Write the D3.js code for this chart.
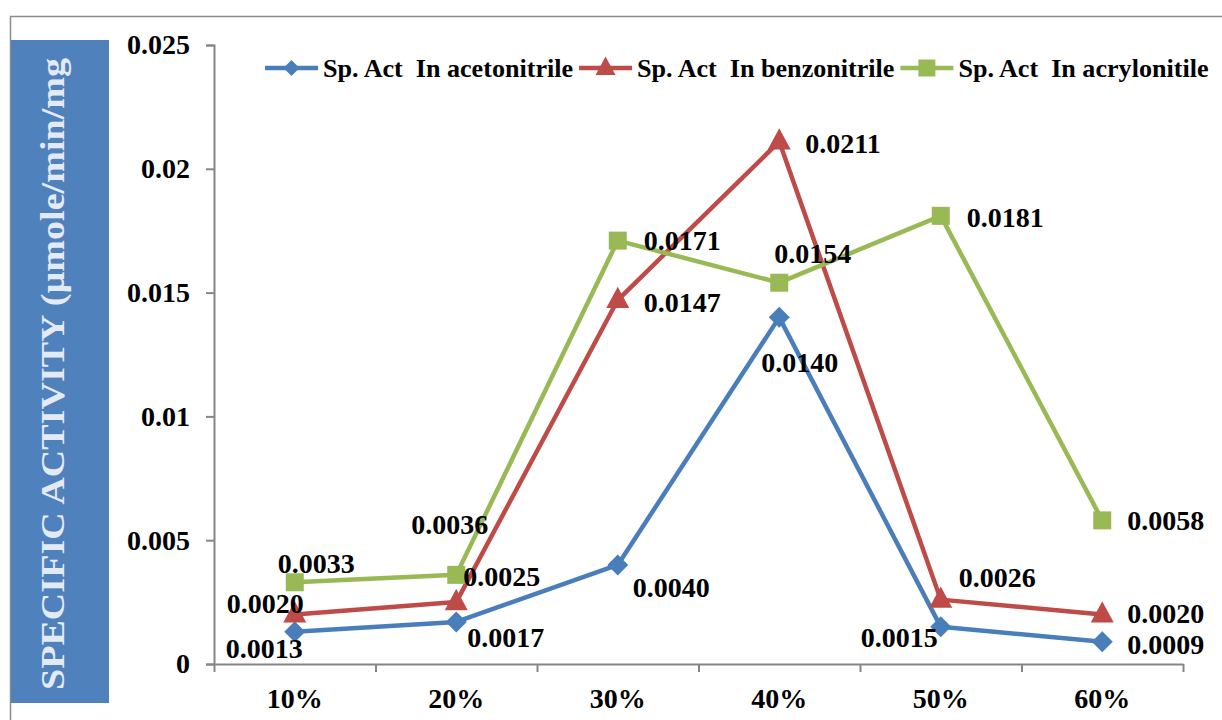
<!DOCTYPE html>
<html>
<head>
<meta charset="utf-8">
<script src="https://cdn.jsdelivr.net/npm/d3@7"></script>
<style>
  html, body { margin: 0; padding: 0; background: #fff; }
  svg { display: block; font-family: "Liberation Serif", "Times New Roman", serif; font-weight: bold; }
</style>
</head>
<body>
<svg id="chart" width="1222" height="720"></svg>
<script>
// Solvent concentration categories
const categories = ["10%", "20%", "30%", "40%", "50%", "60%"];

// Specific activity (µmole/min/mg) per solvent
const acetonitrile = [0.0013, 0.0017, 0.0040, 0.0140, 0.0015, 0.0009];
const benzonitrile = [0.0020, 0.0025, 0.0147, 0.0211, 0.0026, 0.0020];
const acrylonitile = [0.0033, 0.0036, 0.0171, 0.0154, 0.0181, 0.0058];

const seriesNames = [
  "Sp. Act  In acetonitrile",
  "Sp. Act  In benzonitrile",
  "Sp. Act  In acrylonitile"
];

const yTickValues = [0, 0.005, 0.01, 0.015, 0.02, 0.025];
const yTickLabels = ["0", "0.005", "0.01", "0.015", "0.02", "0.025"];

// Value-label placement [dx, dy] relative to each point (text starts at dx, baseline at dy)
const labelOffsets = [
  [[-69, 26], [11, 25], [15, 32], [-18, 55], [-80, 20], [25, 12]],
  [[-68, -1], [7, -16], [26, 12], [26, 11], [18, -13], [25, 9]],
  [[-17, -9], [-45, -41], [26, 9], [-5, -20], [26, 11], [25, 10]]
];

const series = [
  { name: seriesNames[0], values: acetonitrile, color: "#4A7EBB", marker: "diamond" },
  { name: seriesNames[1], values: benzonitrile, color: "#BE4B48", marker: "triangle" },
  { name: seriesNames[2], values: acrylonitile, color: "#98B954", marker: "square" }
];

const svg = d3.select("#chart");

// Outer chart frame
svg.append("rect")
  .attr("x", 10.5).attr("y", 16.5)
  .attr("width", 1400).attr("height", 900)
  .attr("fill", "none").attr("stroke", "#8c8c8c").attr("stroke-width", 1.5);

// Axis title panel
svg.append("rect")
  .attr("x", 11).attr("y", 40).attr("width", 98).attr("height", 663)
  .attr("fill", "#4F81BD");
svg.append("text")
  .attr("transform", "translate(64,374) rotate(-90)")
  .attr("text-anchor", "middle")
  .attr("font-size", 33)
  .attr("fill", "#e4eaf4")
  .attr("textLength", 632)
  .attr("lengthAdjust", "spacingAndGlyphs")
  .text("SPECIFIC ACTIVITY (µmole/min/mg");

// Scales
const plotLeft = 214, plotRight = 1183, plotTop = 45, plotBottom = 664;
const x = d3.scaleBand().domain(categories).range([plotLeft, plotRight]).padding(0);
const xc = c => x(c) + x.bandwidth() / 2;
const y = d3.scaleLinear().domain([0, 0.025]).range([plotBottom, plotTop]);

const axisColor = "#868686";

// Y axis
const yAxis = svg.append("g")
  .attr("transform", `translate(${plotLeft},0)`)
  .call(d3.axisLeft(y).tickValues(yTickValues)
    .tickFormat((d, i) => yTickLabels[i]).tickSize(8).tickPadding(16));
yAxis.select(".domain").attr("stroke", axisColor).attr("stroke-width", 2);
yAxis.selectAll(".tick line").attr("stroke", axisColor).attr("stroke-width", 2);
yAxis.selectAll(".tick text")
  .attr("font-size", 28).attr("font-family", "Liberation Serif, serif")
  .attr("font-weight", "bold").attr("fill", "#000");

// X axis: tick marks between categories
const xIdx = d3.scaleLinear().domain([0, categories.length]).range([plotLeft, plotRight]);
const xTicks = svg.append("g")
  .attr("transform", `translate(0,${plotBottom})`)
  .call(d3.axisBottom(xIdx).tickValues(d3.range(categories.length + 1))
    .tickFormat("").tickSize(8).tickSizeOuter(0));
xTicks.select(".domain").attr("stroke", axisColor).attr("stroke-width", 2);
xTicks.selectAll(".tick line").attr("stroke", axisColor).attr("stroke-width", 2);

// X axis: category labels centred in each band
const xLabels = svg.append("g")
  .attr("transform", `translate(0,${plotBottom})`)
  .call(d3.axisBottom(x).tickSize(0).tickPadding(24));
xLabels.select(".domain").remove();
xLabels.selectAll(".tick text")
  .attr("font-size", 28).attr("font-family", "Liberation Serif, serif")
  .attr("font-weight", "bold").attr("fill", "#000");

// Marker shapes
function markerPath(type, s) {
  if (type === "diamond") return `M0,${-s}L${s},0L0,${s}L${-s},0Z`;
  if (type === "triangle") return `M0,${-s * 1.15}L${s},${s * 0.7}L${-s},${s * 0.7}Z`;
  return `M${-s},${-s}H${s}V${s}H${-s}Z`;
}
const markerSize = { diamond: 10.5, triangle: 11.5, square: 9 };
const legendMarkerSize = { diamond: 8, triangle: 10, square: 8.5 };

const line = d3.line().x((d, i) => xc(categories[i])).y(d => y(d));

series.forEach((s, si) => {
  const g = svg.append("g");
  g.append("path")
    .attr("d", line(s.values))
    .attr("fill", "none").attr("stroke", s.color)
    .attr("stroke-width", 4.5).attr("stroke-linejoin", "round");
  g.selectAll("path.mk").data(s.values).join("path")
    .attr("class", "mk")
    .attr("transform", (d, i) => `translate(${xc(categories[i])},${y(d)})`)
    .attr("d", markerPath(s.marker, markerSize[s.marker]))
    .attr("fill", s.color);
});

// Value labels on top of all lines
series.forEach((s, si) => {
  svg.append("g").selectAll("text").data(s.values).join("text")
    .attr("x", (d, i) => xc(categories[i]) + labelOffsets[si][i][0])
    .attr("y", (d, i) => y(d) + labelOffsets[si][i][1])
    .attr("font-size", 28).attr("fill", "#000")
    .text(d => d.toFixed(4));
});

// Legend
let lx = 265;
const ly = 68;
series.forEach(s => {
  const g = svg.append("g");
  g.append("line")
    .attr("x1", lx).attr("x2", lx + 53).attr("y1", ly).attr("y2", ly)
    .attr("stroke", s.color).attr("stroke-width", 4.5);
  g.append("path")
    .attr("transform", `translate(${lx + 26.5},${ly})`)
    .attr("d", markerPath(s.marker, legendMarkerSize[s.marker]))
    .attr("fill", s.color);
  const t = g.append("text")
    .attr("x", lx + 58).attr("y", ly + 9)
    .attr("font-size", 26.1).attr("fill", "#000")
    .style("white-space", "pre")
    .text(s.name);
  lx = lx + 58 + t.node().getComputedTextLength() + 6;
});
</script>
</body>
</html>
